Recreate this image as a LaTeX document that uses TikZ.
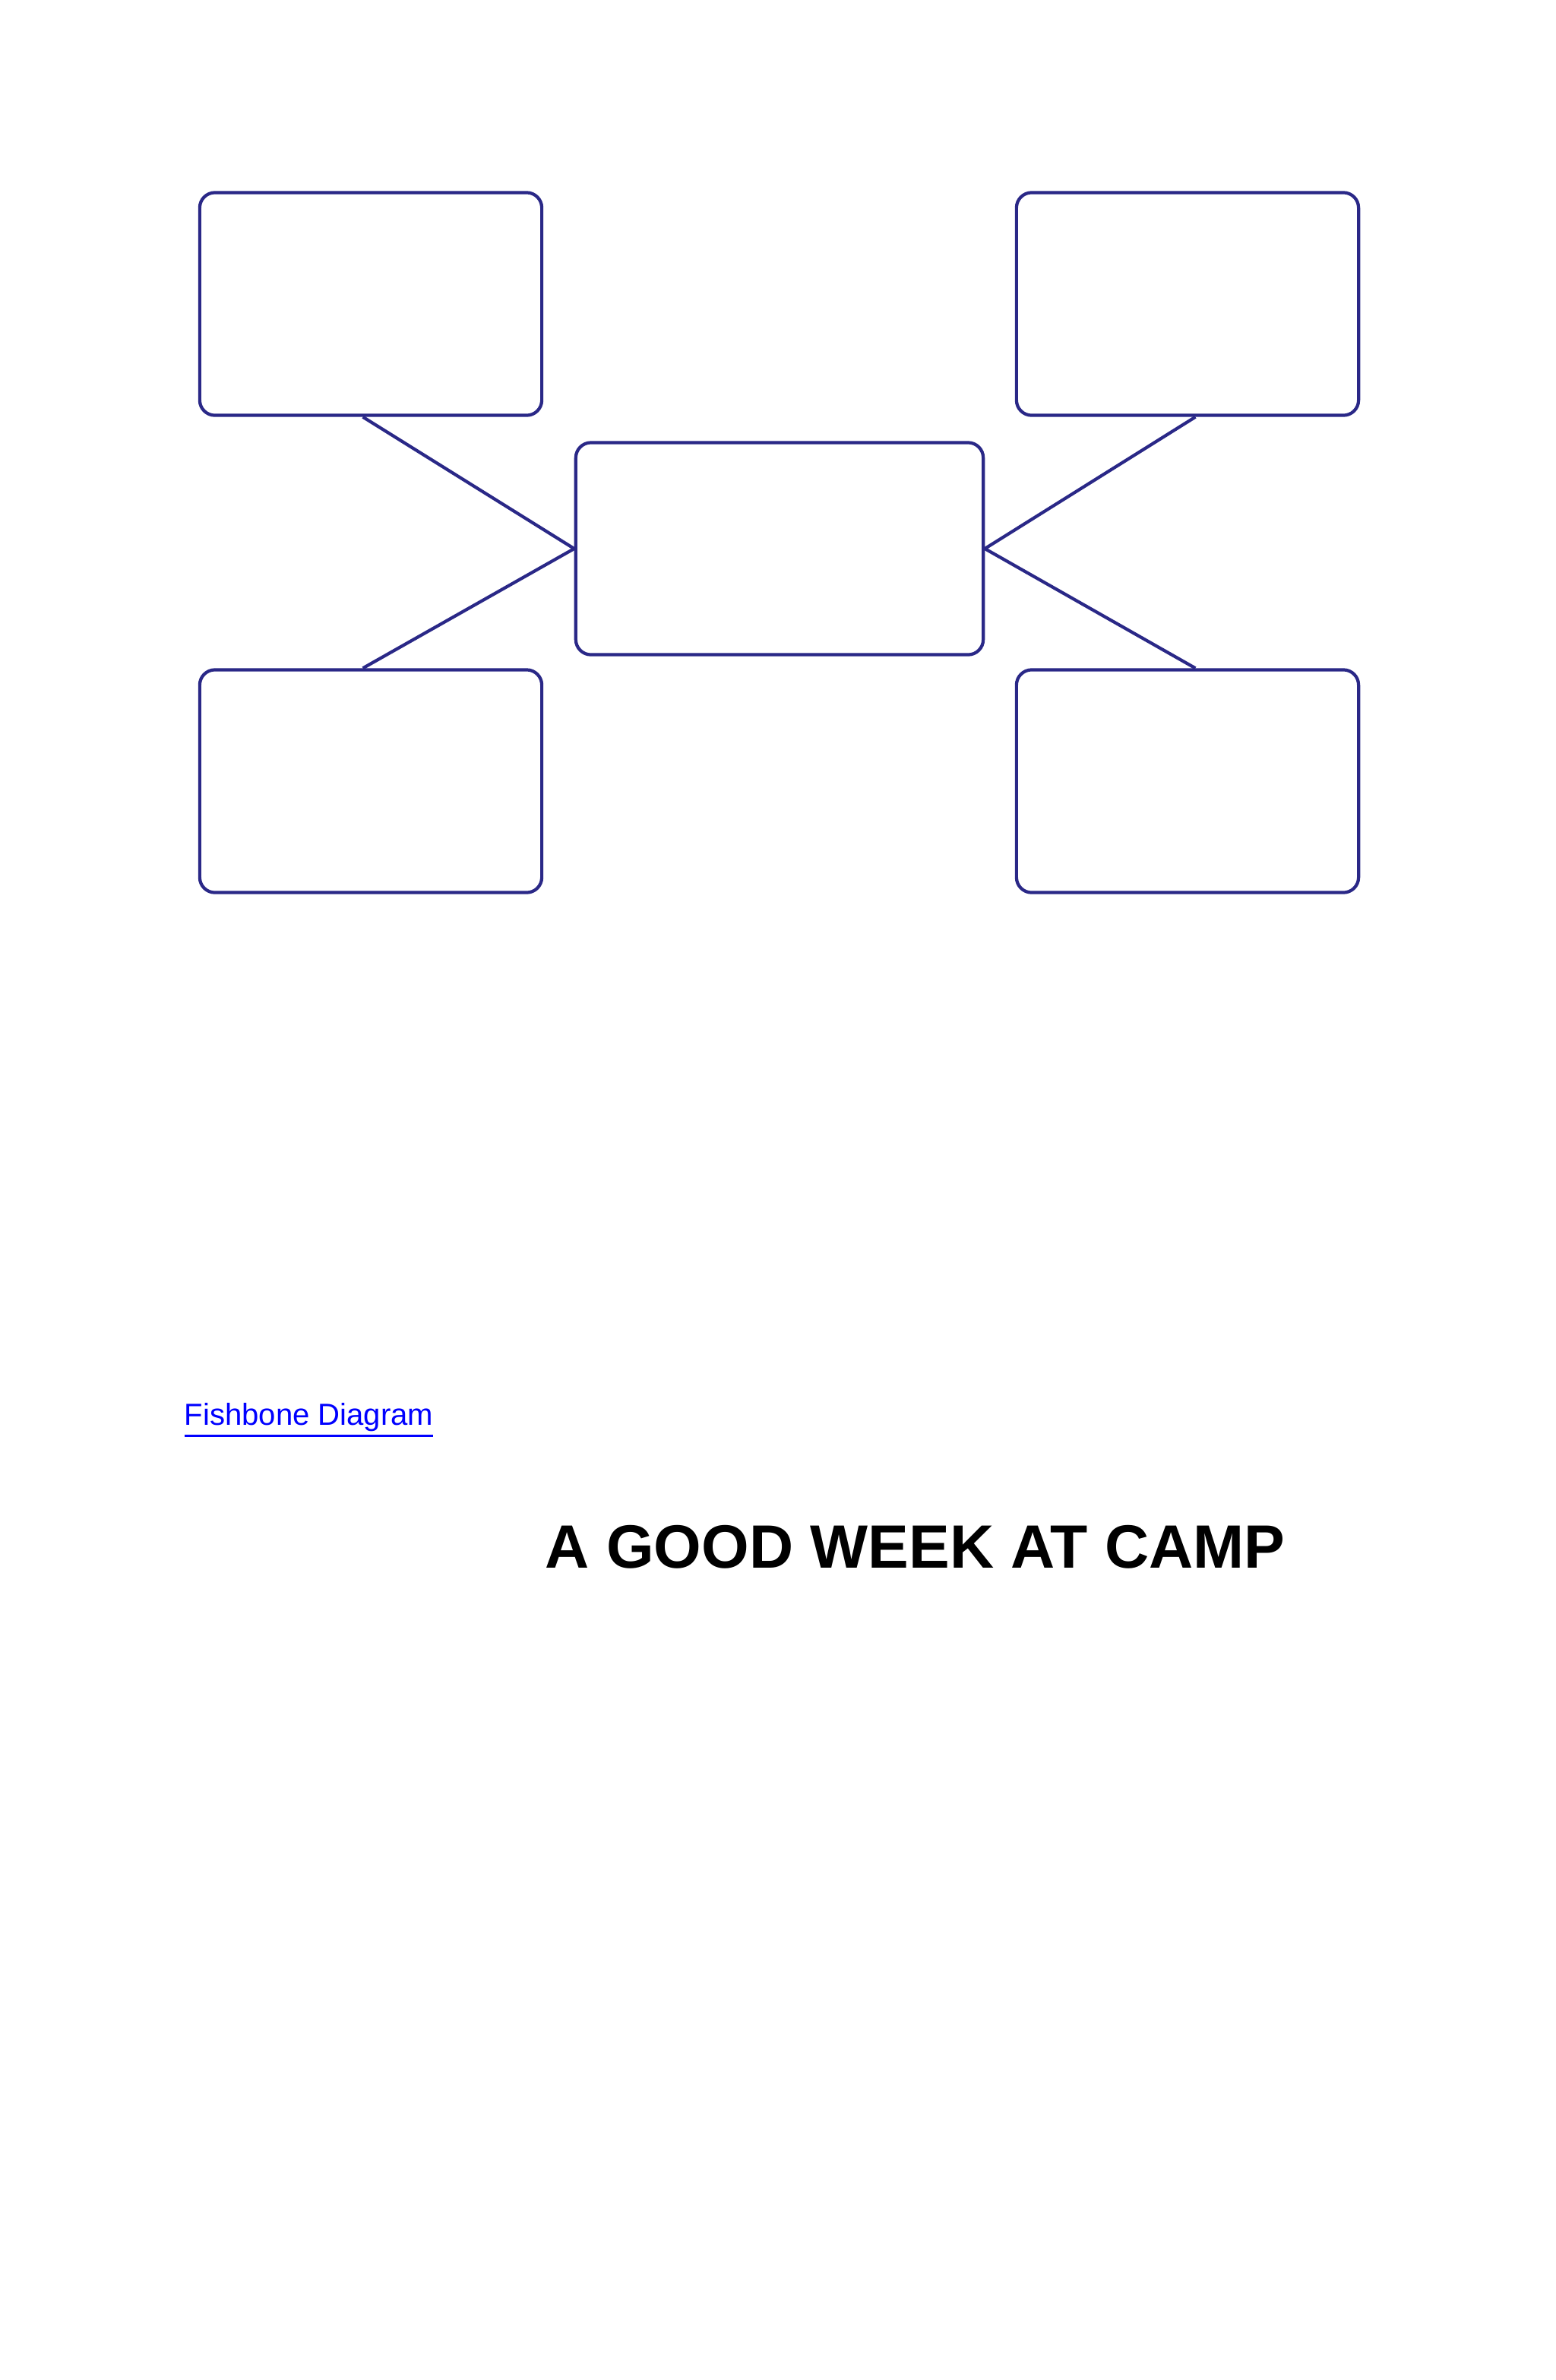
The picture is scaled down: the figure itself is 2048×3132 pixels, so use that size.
\documentclass[tikz,border=0pt]{standalone}
\usepackage{fontspec}
\setmainfont{Liberation Sans}
\usepackage{xcolor}
\definecolor{boxline}{RGB}{42,40,135}
\definecolor{linkblue}{RGB}{0,0,255}
\newcommand{\linkline}[1]{\leavevmode\vtop{\hbox{#1}\kern1.3pt\hrule height0.8pt}}
\tikzset{
  bonebox/.style={draw=boxline,line width=1.2pt,rounded corners=0.2cm,
    minimum width=4.5cm,minimum height=2.93cm},
  bone/.style={draw=boxline,line width=1.2pt}
}

\begin{document}
\begin{tikzpicture}[x=0.01cm,y=-0.01cm]
    \fill[white] (0,0) rectangle (2048,3132);
    \useasboundingbox (0,0) rectangle (2048,3132);

    % Boxes
    \node[bonebox] (tl) at (488,400) {};
    \node[bonebox] (tr) at (1563,400) {};
    \node[bonebox] (bl) at (488,1028) {};
    \node[bonebox] (br) at (1563,1028) {};
    \node[bonebox,minimum width=5.36cm,minimum height=2.79cm] (mid) at (1026,722) {};

    % Bones
    \draw[bone] (tl.-94) -- (mid.west);
    \draw[bone] (bl.94) -- (mid.west);
    \draw[bone] (tr.-86) -- (mid.east);
    \draw[bone] (br.86) -- (mid.east);

    % Link
    \node[anchor=base west,inner sep=0pt,text=linkblue,font=\fontsize{11.4pt}{13pt}\selectfont]
      (link) at (242,1875) {\linkline{Fishbone Diagram}};

    % Title
    \node[anchor=base west,inner sep=0pt,
      font=\fontsize{22.9pt}{27pt}\selectfont\bfseries] (title) at (717,2063) {A GOOD WEEK AT CAMP};
\end{tikzpicture}
\end{document}
